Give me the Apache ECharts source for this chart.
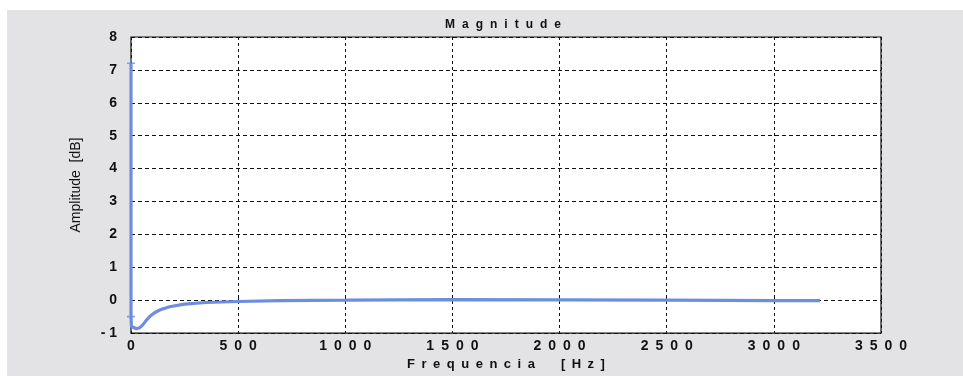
<!DOCTYPE html>
<html>
<head>
<meta charset="utf-8">
<script src="https://cdn.jsdelivr.net/npm/echarts@6/dist/echarts.min.js"></script>
<style>
  html, body { margin: 0; padding: 0; background: #ffffff; }
  #chart { width: 963px; height: 376px; }
</style>
</head>
<body>
<div id="chart"></div>
<script>
// Frequency response magnitude: frequency (Hz) vs amplitude (dB)
const freqHz = [0, 0, 2, 10, 25, 40, 55, 70, 90, 110, 140, 180, 250, 350, 500, 700, 1000, 1500, 2000, 2500, 3000, 3215];
const ampDb  = [7.2, -0.5, -0.8, -0.85, -0.87, -0.84, -0.75, -0.62, -0.48, -0.38, -0.28, -0.2, -0.12, -0.07, -0.04, -0.01, 0.0, 0.02, 0.01, 0.0, -0.01, -0.01];
// indices of samples drawn with a "+" marker
const markedIdx = [0, 1];

const xTicks = { min: 0, max: 3500, step: 500 };
const yTicks = { min: -1, max: 8, step: 1 };

const titleText = 'Magnitude';
const xName = 'Frequencia';
const xUnit = '[Hz]';
const yName = 'Amplitude  [dB]';

// wide letter spacing, typical of the plotting tool's bold labels
const spaced = (s, gap) => String(s).split('').join(gap || '\u2002');

const lineColor = '#6d8de0';
const linePts = freqHz.map((f, i) => [f, ampDb[i]]);
const markPts = markedIdx.map(i => [freqHz[i], ampDb[i]]);

const font = 'Liberation Sans, Arial, sans-serif';

const chart = echarts.init(document.getElementById('chart'));
chart.setOption({
  animation: false,
  backgroundColor: '#ffffff',
  graphic: [
    { type: 'rect', z: -10, shape: { x: 7, y: 10, width: 956, height: 366 }, style: { fill: '#e3e3e6' } }
  ],
  title: {
    text: spaced(titleText, '\u2002\u200a'),
    left: 498, top: 14, textAlign: 'center',
    textStyle: { fontFamily: font, fontWeight: 'bold', fontSize: 12, color: '#111' }
  },
  grid: {
    left: 131, right: 82, top: 37, bottom: 38,
    show: true, backgroundColor: '#ffffff', borderColor: '#111', borderWidth: 1.2
  },
  xAxis: {
    type: 'value', min: xTicks.min, max: xTicks.max, interval: xTicks.step,
    name: spaced(xName) + '\u2003\u2003' + spaced(xUnit),
    nameLocation: 'middle', nameGap: 21,
    nameTextStyle: { fontFamily: font, fontWeight: 'bold', fontSize: 13, color: '#111' },
    axisLine: { show: false },
    axisTick: { show: true, inside: true, length: 4, lineStyle: { color: '#111' } },
    axisLabel: {
      formatter: v => spaced(v), margin: 6,
      fontFamily: font, fontWeight: 'bold', fontSize: 14, color: '#111'
    },
    splitLine: { show: true, lineStyle: { color: '#111', type: [3, 3], width: 1 } }
  },
  yAxis: {
    type: 'value', min: yTicks.min, max: yTicks.max, interval: yTicks.step,
    name: yName, nameLocation: 'middle', nameGap: 48, nameRotate: 90,
    nameTextStyle: { fontFamily: font, fontSize: 14, color: '#111' },
    axisLine: { show: false },
    axisTick: { show: true, inside: true, length: 4, lineStyle: { color: '#111' } },
    axisLabel: {
      formatter: v => spaced(v, ' '), margin: 14,
      fontFamily: font, fontWeight: 'bold', fontSize: 14, color: '#111'
    },
    splitLine: { show: true, lineStyle: { color: '#111', type: [4, 3], width: 1 } }
  },
  series: [
    {
      type: 'line', data: linePts, showSymbol: false, clip: false,
      lineStyle: { color: lineColor, width: 3.2 }, z: 5
    },
    {
      type: 'scatter', data: markPts, clip: false,
      symbol: 'path://M4,0h2v4h4v2h-4v4h-2v-4h-4v-2h4z', symbolSize: 8,
      itemStyle: { color: lineColor }, z: 6
    }
  ]
});
</script>
</body>
</html>
